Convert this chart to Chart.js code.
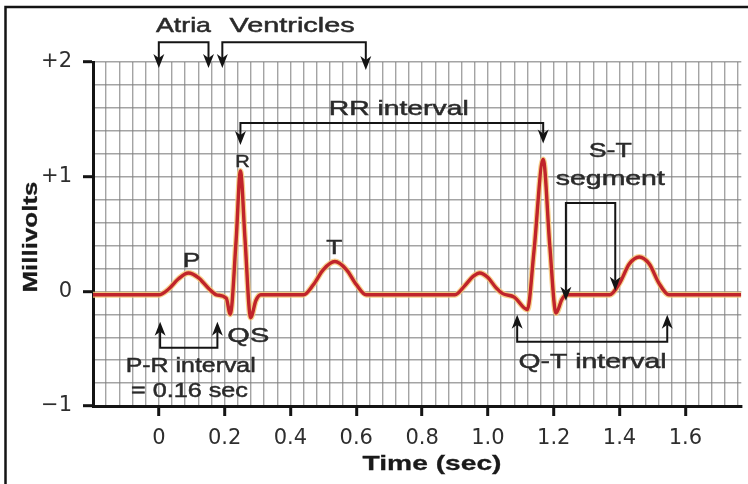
<!DOCTYPE html>
<html><head><meta charset="utf-8">
<script src="https://cdn.jsdelivr.net/npm/chart.js@4/dist/chart.umd.min.js"></script>
<style>html,body{margin:0;padding:0;background:#fff;}canvas{display:block;}</style>
</head><body>
<canvas id="c" width="748" height="484"></canvas>
<script>
// ---- data ----
const timeSec = [-0.2, 0.0, 0.03, 0.06, 0.09, 0.12, 0.15, 0.175, 0.205, 0.217, 0.235, 0.248, 0.262, 0.279, 0.295, 0.31,
  0.44, 0.47, 0.50, 0.535, 0.57, 0.60, 0.63,
  0.90, 0.93, 0.955, 0.975, 1.00, 1.025, 1.045, 1.08, 1.12, 1.14, 1.168, 1.188, 1.207, 1.225, 1.24,
  1.37, 1.40, 1.43, 1.46, 1.49, 1.52, 1.55, 1.77];
const millivolts = [-0.03, -0.03, 0.02, 0.11, 0.16, 0.12, 0.03, -0.03, -0.06, -0.2, 0.45, 1.05, 0.45, -0.23, -0.08, -0.03,
  -0.03, 0.06, 0.19, 0.26, 0.19, 0.06, -0.03,
  -0.03, 0.05, 0.13, 0.16, 0.12, 0.03, -0.02, -0.05, -0.16, 0.35, 1.15, 0.4, -0.19, -0.07, -0.03,
  -0.03, 0.07, 0.24, 0.30, 0.24, 0.07, -0.03, -0.03];
const xTickValues = [0, 0.2, 0.4, 0.6, 0.8, 1.0, 1.2, 1.4, 1.6];
const xTickLabels = ['0', '0.2', '0.4', '0.6', '0.8', '1.0', '1.2', '1.4', '1.6'];
const yTickValues = [-1, 0, 1, 2];
const yTickLabels = ['\u22121', '0', '+1', '+2'];
const xTitle = 'Time (sec)';
const yTitle = 'Millivolts';

function tickIndex(v, vals) {
  for (let i = 0; i < vals.length; i++) if (Math.abs(v - vals[i]) < 1e-6) return i;
  return -1;
}

// ---- annotation layout (time / mV units, placed through the chart's scales) ----
const notes = {
  topBrackets: [ // [t1, t2, lineV, tipV1, tipV2]
    [0.0, 0.151, 2.173, 1.947, 1.947],
    [0.193, 0.629, 2.173, 1.947, 1.93],
    [0.248, 1.168, 1.468, 1.276, 1.29],
    [1.237, 1.387, 0.771, -0.083, 0.004]
  ],
  bottomBrackets: [
    [0.004, 0.178, -0.492, -0.266, -0.266],
    [1.089, 1.545, -0.44, -0.205, -0.205]
  ],
  texts: [ // [text, tCenter, vBaseline, size, width]
    ['Atria', 0.075, 2.26, 21, 55],
    ['Ventricles', 0.405, 2.26, 21, 125],
    ['RR interval', 0.729, 1.537, 21, 140],
    ['R', 0.254, 1.085, 16, 0],
    ['S-T', 1.372, 1.172, 21, 43],
    ['segment', 1.372, 0.928, 21, 109],
    ['P', 0.099, 0.213, 21, 0],
    ['T', 0.533, 0.327, 21, 0],
    ['QS', 0.272, -0.44, 21, 42],
    ['P-R interval', 0.097, -0.701, 21, 130],
    ['= 0.16 sec', 0.093, -0.919, 21, 117],
    ['Q-T interval', 1.318, -0.666, 21, 148]
  ]
};

const ink = '#141414';
const textInk = '#2a2a2a';
const noteFont = '"Liberation Sans", Arial, sans-serif';

function drawText(ctx, s, cx, by, font, width, stroke) {
  ctx.font = font;
  const w = ctx.measureText(s).width;
  const sx = width ? width / w : 1.25;
  ctx.save();
  ctx.translate(cx, by);
  ctx.scale(sx, 1);
  ctx.textAlign = 'center';
  ctx.textBaseline = 'alphabetic';
  ctx.fillText(s, 0, 0);
  if (stroke) { ctx.lineWidth = stroke; ctx.strokeStyle = ctx.fillStyle; ctx.strokeText(s, 0, 0); }
  ctx.restore();
}
function head(ctx, x, tip, dir) { // dir 1: points down, -1: points up
  ctx.beginPath();
  ctx.moveTo(x, tip);
  ctx.lineTo(x - 5.5, tip - dir * 14);
  ctx.lineTo(x, tip - dir * 10);
  ctx.lineTo(x + 5.5, tip - dir * 14);
  ctx.closePath();
  ctx.fill();
}

const notesPlugin = {
  id: 'ecgNotes',
  afterDraw(chart) {
    const ctx = chart.ctx, xs = chart.scales.x, ys = chart.scales.y;
    const px = t => xs.getPixelForValue(t), py = v => ys.getPixelForValue(v);
    const area = chart.chartArea;
    ctx.save();
    // picture frame
    ctx.strokeStyle = ink; ctx.lineWidth = 2.5;
    ctx.beginPath(); ctx.moveTo(5.5, 484); ctx.lineTo(5.5, 7); ctx.lineTo(748, 7); ctx.stroke();

    ctx.strokeStyle = ink; ctx.fillStyle = ink; ctx.lineWidth = 2;
    notes.topBrackets.forEach(b => {
      const x1 = px(b[0]), x2 = px(b[1]), ly = py(b[2]), t1 = py(b[3]), t2 = py(b[4]);
      ctx.beginPath();
      ctx.moveTo(x1, t1 - 10); ctx.lineTo(x1, ly); ctx.lineTo(x2, ly); ctx.lineTo(x2, t2 - 10);
      ctx.stroke();
      head(ctx, x1, t1, 1); head(ctx, x2, t2, 1);
    });
    notes.bottomBrackets.forEach(b => {
      const x1 = px(b[0]), x2 = px(b[1]), ly = py(b[2]), t1 = py(b[3]), t2 = py(b[4]);
      ctx.beginPath();
      ctx.moveTo(x1, t1 + 10); ctx.lineTo(x1, ly); ctx.lineTo(x2, ly); ctx.lineTo(x2, t2 + 10);
      ctx.stroke();
      head(ctx, x1, t1, -1); head(ctx, x2, t2, -1);
    });
    ctx.fillStyle = textInk;
    notes.texts.forEach(n => {
      drawText(ctx, n[0], px(n[1]), py(n[2]), n[3] + 'px ' + noteFont, n[4], 0.5);
    });
    // axis titles
    ctx.fillStyle = '#1a1a1a';
    drawText(ctx, xTitle, 432, 470, 'bold 21px ' + noteFont, 139, 0.3);
    ctx.save();
    ctx.translate(area.left - 62, (area.top + area.bottom) / 2 + 3);
    ctx.rotate(-Math.PI / 2);
    ctx.font = 'bold 21px ' + noteFont;
    const w = ctx.measureText(yTitle).width;
    ctx.scale(111 / w, 1);
    ctx.textAlign = 'center'; ctx.textBaseline = 'middle';
    ctx.fillText(yTitle, 0, 0);
    ctx.lineWidth = 0.3; ctx.strokeStyle = '#1a1a1a'; ctx.strokeText(yTitle, 0, 0);
    ctx.restore();
    ctx.restore();
  }
};

const points = timeSec.map((t, i) => ({ x: t, y: millivolts[i] }));
const gridGrey = 'rgba(125,125,125,0.7)';

new Chart(document.getElementById('c'), {
  type: 'line',
  data: {
    datasets: [
      { data: points, borderColor: '#c0242b', borderWidth: 3.4, pointRadius: 0, cubicInterpolationMode: 'monotone', order: 0 },
      { data: points, borderColor: 'rgba(246,200,120,0.85)', borderWidth: 5.8, pointRadius: 0, cubicInterpolationMode: 'monotone', order: 1 }
    ]
  },
  options: {
    responsive: false, animation: false, events: [],
    layout: { padding: { top: 62, right: 0, bottom: 0, left: 0 } },
    plugins: { legend: { display: false }, tooltip: { enabled: false } },
    scales: {
      x: {
        type: 'linear', min: -0.2, max: 1.77,
        afterFit: s => { s.height = 78; },
        ticks: {
          stepSize: 0.04, includeBounds: false, autoSkip: false, maxRotation: 0, minRotation: 0,
          padding: 10, color: '#2e2e2e', font: { family: 'DejaVu Sans', size: 21 },
          callback: v => { const i = tickIndex(v, xTickValues); return i < 0 ? '' : xTickLabels[i]; }
        },
        grid: {
          color: gridGrey, lineWidth: 1.4, tickLength: 10, tickWidth: 3,
          tickColor: c => (c.tick && tickIndex(c.tick.value, xTickValues) >= 0) ? ink : 'rgba(0,0,0,0)'
        },
        border: { color: ink, width: 3 }
      },
      y: {
        type: 'linear', min: -1, max: 2,
        afterFit: s => { s.width = 93; },
        ticks: {
          stepSize: 0.2, includeBounds: false, autoSkip: false,
          padding: 11, color: '#2e2e2e', font: { family: 'DejaVu Sans', size: 21 },
          callback: v => { const i = tickIndex(v, yTickValues); return i < 0 ? '' : yTickLabels[i]; }
        },
        grid: {
          color: gridGrey, lineWidth: 1.4, tickLength: 10, tickWidth: 3,
          tickColor: c => (c.tick && tickIndex(c.tick.value, yTickValues) >= 0) ? ink : 'rgba(0,0,0,0)'
        },
        border: { color: ink, width: 3 }
      }
    }
  },
  plugins: [notesPlugin]
});
</script>
</body></html>
